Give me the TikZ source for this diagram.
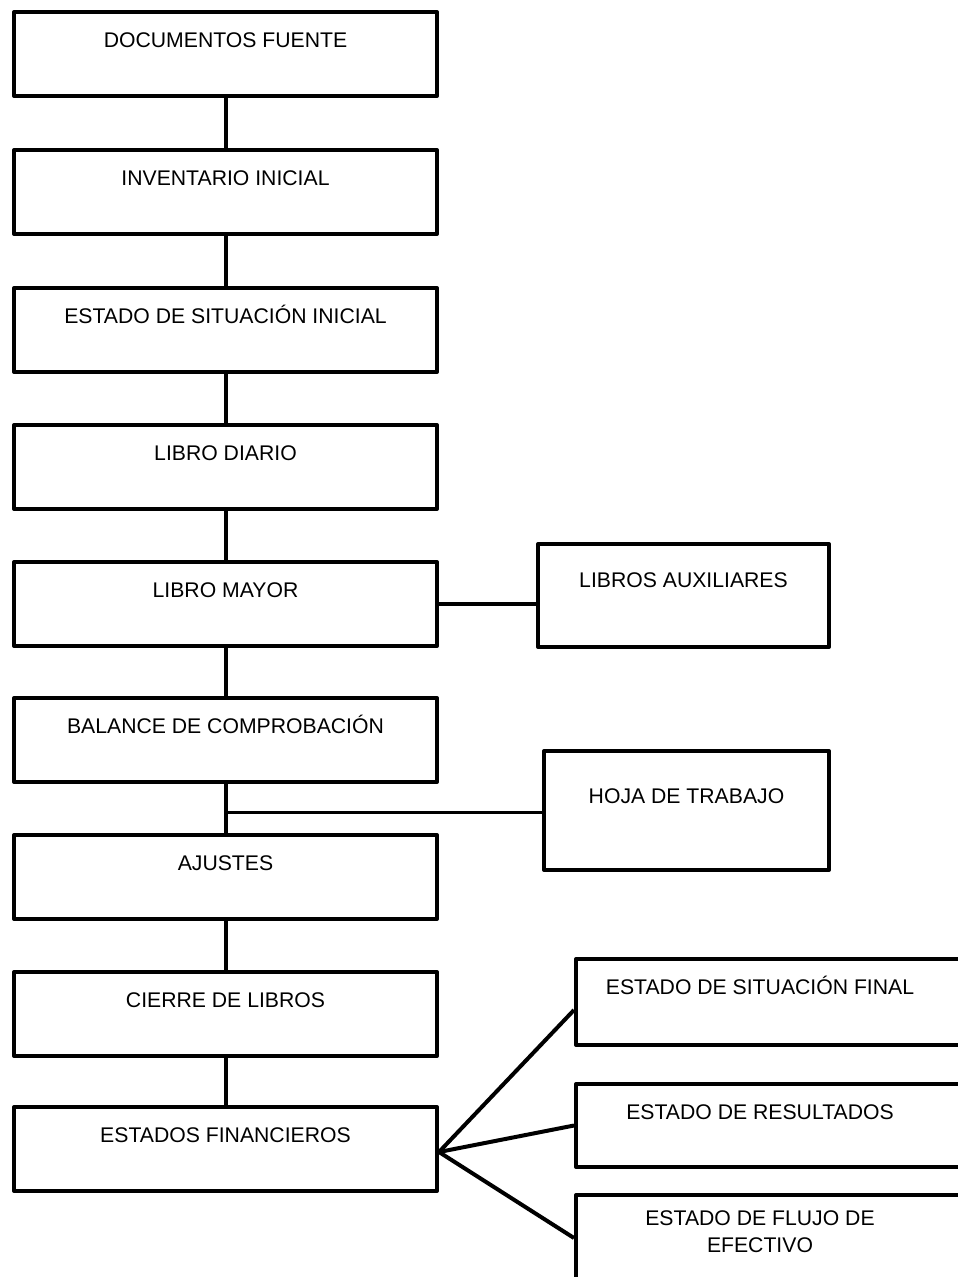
\documentclass[tikz,border=0pt]{standalone}
\usepackage{fontspec}
\setmainfont{Liberation Sans}
\begin{document}
\begin{tikzpicture}[x=1pt,y=-1pt,
  box/.style={draw, line width=4pt, rectangle, inner sep=0pt, line join=round},
  lbox/.style={box, minimum width=423pt, minimum height=84pt},
  txt/.style={font=\fontsize{21.2}{27}\selectfont, inner sep=0pt, anchor=base, align=center},
  link/.style={line width=4pt},
  thin link/.style={line width=3pt}]
\useasboundingbox (0,0) rectangle (958,1277);
% left column
\node[lbox] (b1) at (225.5,54) {};
\node[lbox] (b2) at (225.5,192) {};
\node[lbox] (b3) at (225.5,330) {};
\node[lbox] (b4) at (225.5,467) {};
\node[lbox] (b5) at (225.5,604) {};
\node[lbox] (b6) at (225.5,740) {};
\node[lbox] (b7) at (225.5,877) {};
\node[lbox] (b8) at (225.5,1014) {};
\node[lbox] (b9) at (225.5,1149) {};
\node[txt] (t1) at ([yshift=-37.5pt]b1.north) {DOCUMENTOS FUENTE};
\node[txt] (t2) at ([yshift=-37.5pt]b2.north) {INVENTARIO INICIAL};
\node[txt] (t3) at ([yshift=-37.5pt]b3.north) {ESTADO DE SITUACIÓN INICIAL};
\node[txt] (t4) at ([yshift=-37.5pt]b4.north) {LIBRO DIARIO};
\node[txt] (t5) at ([yshift=-37.5pt]b5.north) {LIBRO MAYOR};
\node[txt] (t6) at ([yshift=-37.5pt]b6.north) {BALANCE DE COMPROBACIÓN};
\node[txt] (t7) at ([yshift=-37.5pt]b7.north) {AJUSTES};
\node[txt] (t8) at ([yshift=-37.5pt]b8.north) {CIERRE DE LIBROS};
\node[txt] (t9) at ([yshift=-37.5pt]b9.north) {ESTADOS FINANCIEROS};
% right boxes
\node[box, minimum width=291pt, minimum height=103pt] (aux) at (683.5,595.5) {};
\node[txt] (taux) at ([yshift=-45.5pt]aux.north) {LIBROS AUXILIARES};
\node[box, minimum width=285pt, minimum height=119pt] (hoja) at (686.5,810.5) {};
\node[txt] (thoja) at ([yshift=-54.5pt]hoja.north) {HOJA DE TRABAJO};
\node[box, minimum width=400pt, minimum height=86pt] (sf) at (776,1002) {};
\node[txt] (tsf) at ([xshift=186pt,yshift=-37.5pt]sf.north west) {ESTADO DE SITUACIÓN FINAL};
\node[box, minimum width=400pt, minimum height=83pt] (er) at (776,1125.5) {};
\node[txt] (ter) at ([xshift=186pt,yshift=-37.5pt]er.north west) {ESTADO DE RESULTADOS};
\node[box, minimum width=400pt, minimum height=86pt] (fe) at (776,1238) {};
\node[txt] (tfe) at ([xshift=186pt,yshift=-59.5pt]fe.north west) {ESTADO DE FLUJO DE\\EFECTIVO};
% connectors
\draw[link] (b1.south) -- (b2.north);
\draw[link] (b2.south) -- (b3.north);
\draw[link] (b3.south) -- (b4.north);
\draw[link] (b4.south) -- (b5.north);
\draw[link] (b5.south) -- (b6.north);
\draw[link] (b6.south) -- (b7.north);
\draw[link] (b7.south) -- (b8.north);
\draw[link] (b8.south) -- (b9.north);
\draw[link] (b5.east) -- (b5.east -| aux.west);
\coordinate (j) at ([yshift=-28pt]b6.south);
\draw[thin link] (j) -- (j -| hoja.west);
\coordinate (fan) at ([yshift=-3pt]b9.east);
\draw[link, line join=round] (fan) -- ([yshift=-8pt]sf.west);
\draw[link] (fan) -- (er.west);
\draw[link] (fan) -- (fe.west);
\end{tikzpicture}
\end{document}
